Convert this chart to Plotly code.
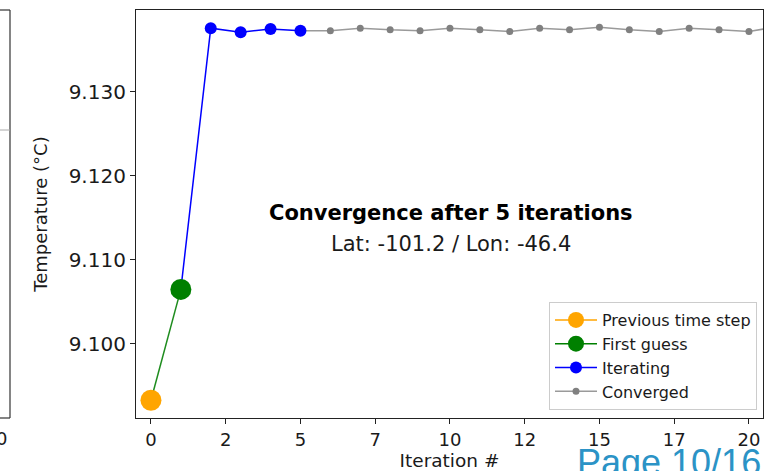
import plotly.graph_objects as go

W, H = 774, 471

# ---- data ----
prev_x = [0]
prev_y = [9.0933]
first_x = [1]
first_y = [9.1065]
iter_x = [1, 2, 3, 4, 5]
iter_y = [9.1065, 9.1376, 9.1371, 9.1375, 9.1373]
conv_x = [5, 6, 7, 8, 9, 10, 11, 12, 13, 14, 15, 16, 17, 18, 19, 20, 21]
conv_y = [9.1373, 9.1373, 9.1376, 9.1374, 9.1373, 9.1376, 9.1374, 9.1372, 9.1376,
          9.1374, 9.1377, 9.1374, 9.1372, 9.1376, 9.1374, 9.1372, 9.1378]
x_tickvals = [0, 2.5, 5, 7.5, 10, 12.5, 15, 17.5, 20]
x_ticktext = ["0", "2", "5", "7", "10", "12", "15", "17", "20"]
y_tickvals = [9.100, 9.110, 9.120, 9.130]
y_ticktext = ["9.100", "9.110", "9.120", "9.130"]

FONT = "DejaVu Sans"
TXT = "#1a1a1a"

# plot area in pixels
L, R, T, B = 136, 763, 10, 418

fig = go.Figure()

# converged (grey) first
fig.add_trace(go.Scatter(x=conv_x, y=conv_y, mode="lines+markers", name="Converged",
                         line=dict(color="#9a9a9a", width=1.5),
                         marker=dict(color="#808080", size=7), cliponaxis=True))
# iterating (blue)
fig.add_trace(go.Scatter(x=iter_x, y=iter_y, mode="lines+markers", name="Iterating",
                         line=dict(color="#0000ff", width=1.5),
                         marker=dict(color="#0000ff", size=12)))
# green connector
fig.add_trace(go.Scatter(x=prev_x + first_x, y=prev_y + first_y, mode="lines",
                         line=dict(color="#1e8c1e", width=1.5), showlegend=False,
                         hoverinfo="skip"))
fig.add_trace(go.Scatter(x=first_x, y=first_y, mode="lines+markers", name="First guess",
                         line=dict(color="#008000", width=1.5),
                         marker=dict(color="#008000", size=21)))
fig.add_trace(go.Scatter(x=prev_x, y=prev_y, mode="lines+markers", name="Previous time step",
                         line=dict(color="#ffa500", width=1.5),
                         marker=dict(color="#ffa500", size=21)))

ann = [
    dict(text="<b>Convergence after 5 iterations</b>", x=451 / W, y=1 - 213 / H,
         xref="paper", yref="paper", showarrow=False, xanchor="center", yanchor="middle",
         font=dict(family=FONT, size=21, color="black")),
    dict(text="Lat: -101.2 / Lon: -46.4", x=451 / W, y=1 - 244 / H,
         xref="paper", yref="paper", showarrow=False, xanchor="center", yanchor="middle",
         font=dict(family=FONT, size=21, color=TXT)),
    dict(text="0", x=1 / W, y=1 - 438 / H, xref="paper", yref="paper", showarrow=False,
         xanchor="center", yanchor="middle", font=dict(family=FONT, size=18, color=TXT)),
    dict(text="Page 10/16", x=763 / W, y=1 - 462.5 / H, xref="paper", yref="paper",
         showarrow=False, xanchor="right", yanchor="middle",
         font=dict(family="Liberation Sans", size=36, color="#2b93c6")),
]

shapes = [
    # partial neighbouring axes on the left
    dict(type="line", xref="paper", yref="paper", x0=0, x1=10 / W, y0=1 - T / H, y1=1 - T / H,
         line=dict(color="#333", width=1.2)),
    dict(type="line", xref="paper", yref="paper", x0=10 / W, x1=10 / W, y0=1 - T / H, y1=1 - B / H,
         line=dict(color="#333", width=1.2)),
    dict(type="line", xref="paper", yref="paper", x0=0, x1=10 / W, y0=1 - B / H, y1=1 - B / H,
         line=dict(color="#333", width=1.2)),
    dict(type="line", xref="paper", yref="paper", x0=0, x1=10 / W, y0=1 - 130 / H, y1=1 - 130 / H,
         line=dict(color="#aaa", width=1)),
]

fig.update_layout(
    width=W, height=H,
    margin=dict(l=0, r=0, t=0, b=0),
    paper_bgcolor="white", plot_bgcolor="white",
    showlegend=True,
    legend=dict(x=757 / W, y=1 - 410 / H, xanchor="right", yanchor="bottom",
                bordercolor="#cccccc", borderwidth=1, bgcolor="white",
                font=dict(family=FONT, size=16, color=TXT),
                traceorder="reversed", itemsizing="trace", tracegroupgap=0,
                itemwidth=42),
    xaxis=dict(domain=[L / W, R / W], range=[-0.5, 20.47], tickvals=x_tickvals,
               ticktext=x_ticktext, showgrid=False, zeroline=False,
               showline=True, mirror=True, linecolor="#222", linewidth=1.2,
               ticks="outside", ticklen=5, tickcolor="#222",
               tickfont=dict(family=FONT, size=18, color=TXT),
               title=dict(text="Iteration #", font=dict(family=FONT, size=18.5, color=TXT),
                          standoff=5)),
    yaxis=dict(domain=[1 - B / H, 1 - T / H], range=[9.09119, 9.13976], tickvals=y_tickvals,
               ticktext=y_ticktext, showgrid=False, zeroline=False,
               showline=True, mirror=True, linecolor="#222", linewidth=1.2,
               ticks="outside", ticklen=5, tickcolor="#222",
               tickfont=dict(family=FONT, size=20, color=TXT),
               title=dict(text="Temperature (°C)", font=dict(family=FONT, size=18, color=TXT),
                          standoff=16)),
    annotations=ann,
    shapes=shapes,
)

fig.write_html("out.html")
